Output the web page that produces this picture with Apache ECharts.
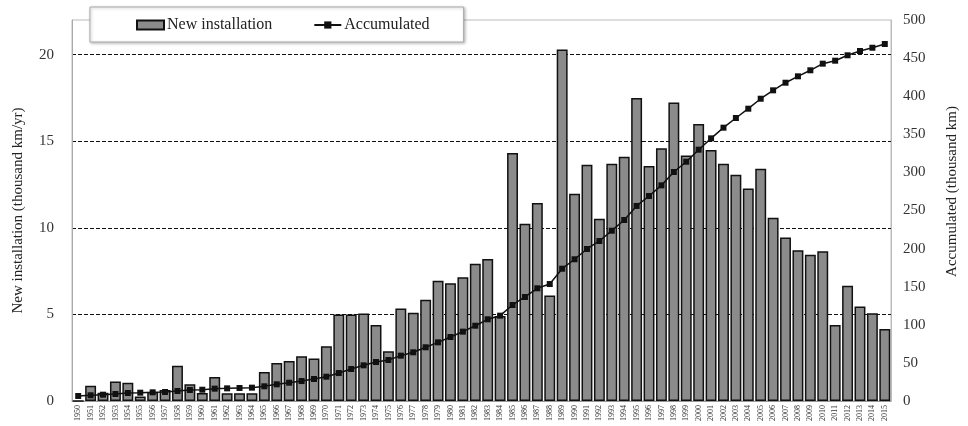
<!DOCTYPE html>
<html>
<head>
<meta charset="utf-8">
<script src="https://cdn.jsdelivr.net/npm/echarts@6/dist/echarts.min.js"></script>
<style>
html,body{margin:0;padding:0;background:#fff;}
#c{width:968px;height:426px;}
</style>
</head>
<body>
<div id="c"></div>
<script>
const years = ['1950','1951','1952','1953','1954','1955','1956','1957','1958','1959',
'1960','1961','1962','1963','1964','1965','1966','1967','1968','1969',
'1970','1971','1972','1973','1974','1975','1976','1977','1978','1979',
'1980','1981','1982','1983','1984','1985','1986','1987','1988','1989',
'1990','1991','1992','1993','1994','1995','1996','1997','1998','1999',
'2000','2001','2002','2003','2004','2005','2006','2007','2008','2009',
'2010','2011','2012','2013','2014','2015'];

const newInstallation = [0,0.88,0.48,1.13,1.05,0.26,0.52,0.64,2.04,0.96,
0.46,1.39,0.45,0.45,0.45,1.68,2.2,2.31,2.58,2.45,
3.16,5.0,5.0,5.05,4.39,2.87,5.34,5.1,5.84,6.95,
6.8,7.15,7.92,8.2,4.91,14.32,10.23,11.44,6.09,20.29,
11.97,13.64,10.52,13.7,14.1,17.5,13.57,14.6,17.24,14.18,
16.0,14.5,13.7,13.06,12.27,13.41,10.58,9.44,8.71,8.44,
8.65,4.39,6.65,5.45,5.07,4.16];

const accumulated = [6.6,7.5,8.3,9.2,10.5,10.9,11.4,11.8,13.1,14.4,
14.8,16.2,16.6,17.1,17.5,19.3,21.9,24.0,26.2,28.9,
31.9,36.7,42.0,46.8,51.2,53.8,59.5,63.9,70.5,77.0,
84.0,91.0,98.8,107.2,112.0,126.0,136.5,147.9,153.5,173.6,
186.0,199.5,210.0,223.5,237.5,256.0,269.0,283.0,300.5,314.0,
329.8,344.7,358.7,371.4,383.6,396.7,407.7,417.7,426.1,434.0,
442.7,446.6,453.7,459.3,463.6,468.5];

const leftTicks = {min: 0, max: 22, interval: 5};
const rightTicks = {min: 0, max: 500, interval: 50};

const FONT = 'Liberation Serif';
const chart = echarts.init(document.getElementById('c'), null, {renderer: 'canvas'});
chart.setOption({
  backgroundColor: '#fff',
  animation: false,
  textStyle: {fontFamily: FONT, color: '#222'},
  grid: {left: 72, right: 68, top: 20, bottom: 25, show: true, borderColor: '#bbb', borderWidth: 1, containLabel: false},
  legend: {
    left: 90, top: 7,
    padding: [10, 34, 9, 46],
    itemGap: 41,
    itemWidth: 27, itemHeight: 9,
    backgroundColor: '#fff',
    borderColor: '#aaa', borderWidth: 1,
    shadowColor: 'rgba(0,0,0,0.25)', shadowBlur: 3, shadowOffsetX: 1, shadowOffsetY: 1,
    textStyle: {fontFamily: FONT, fontSize: 16, color: '#222', padding: [0,0,0,-2]},
    data: [{name: 'New installation', icon: 'rect'}, {name: 'Accumulated'}]
  },
  xAxis: {
    type: 'category',
    data: years,
    boundaryGap: true,
    axisLine: {lineStyle: {color: '#999'}},
    axisTick: {show: false},
    axisLabel: {interval: 0, rotate: 90, fontSize: 8, fontFamily: FONT, color: '#333', margin: 4}
  },
  yAxis: [{
    type: 'value',
    min: leftTicks.min, max: leftTicks.max, interval: leftTicks.interval,
    name: 'New installation (thousand km/yr)',
    nameLocation: 'middle', nameGap: 46, nameRotate: 90,
    nameTextStyle: {fontFamily: FONT, fontSize: 15, color: '#222'},
    axisLine: {show: true, lineStyle: {color: '#aaa'}},
    axisTick: {show: false},
    axisLabel: {fontFamily: FONT, fontSize: 15, color: '#333', margin: 18, showMaxLabel: false},
    splitLine: {show: true, showMinLine: false, showMaxLine: false, lineStyle: {color: '#111', type: [4, 2], width: 1}}
  }, {
    type: 'value',
    min: rightTicks.min, max: rightTicks.max, interval: rightTicks.interval,
    name: 'Accumulated (thousand km)',
    nameLocation: 'middle', nameGap: 54, nameRotate: 90,
    nameTextStyle: {fontFamily: FONT, fontSize: 15, color: '#222', padding: [0, 0, 0, 38]},
    axisLine: {show: true, lineStyle: {color: '#bbb'}},
    axisTick: {show: false},
    axisLabel: {fontFamily: FONT, fontSize: 15, color: '#333', margin: 12},
    splitLine: {show: false}
  }],
  series: [{
    name: 'New installation',
    type: 'bar',
    yAxisIndex: 0,
    data: newInstallation,
    barCategoryGap: '12%',
    itemStyle: {color: '#8b8b8b', borderColor: '#111', borderWidth: 1.5}
  }, {
    name: 'Accumulated',
    type: 'line',
    yAxisIndex: 1,
    data: accumulated,
    symbol: 'rect', symbolSize: 6,
    lineStyle: {color: '#111', width: 1.5},
    itemStyle: {color: '#111'}
  }]
});
</script>
</body>
</html>
